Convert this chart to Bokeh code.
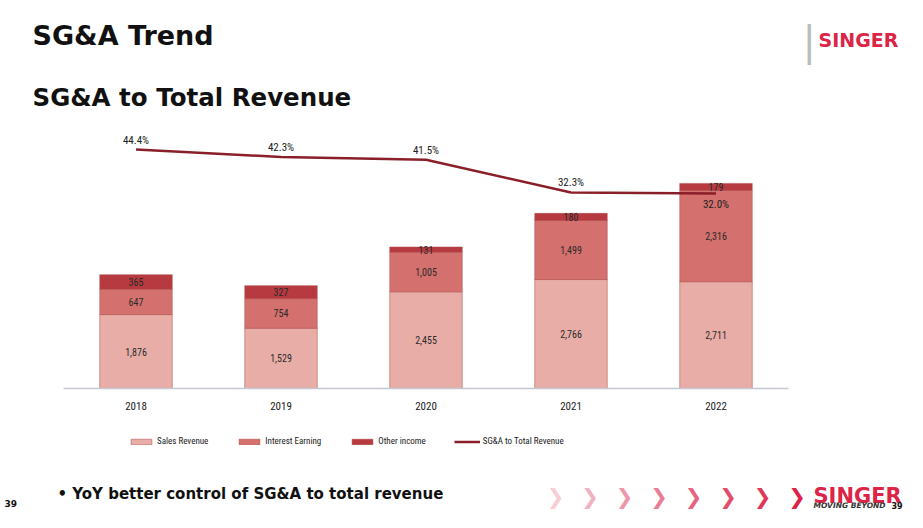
from bokeh.plotting import figure
from bokeh.models import (Range1d, Label, Legend, LegendItem, ColumnDataSource, CDSView,
                          IndexFilter, FixedTicker)
from bokeh.core.properties import value
from bokeh.embed import file_html
from bokeh.resources import INLINE

years = ["2018", "2019", "2020", "2021", "2022"]
sales_revenue = [1876, 1529, 2455, 2766, 2711]
interest_earning = [647, 754, 1005, 1499, 2316]
other_income = [365, 327, 131, 180, 179]
sga_ratio = [44.4, 42.3, 41.5, 32.3, 32.0]

C_SALES = "#e8ada6"
C_INT = "#d4706d"
C_OTHER = "#b73a40"
C_LINE = "#8a1f2a"
NARROW = "'Liberation Sans Narrow', 'Roboto Condensed', Roboto, sans-serif"
HEAD = "'DejaVu Sans', Verdana, sans-serif"

idx = list(range(len(years)))
src = ColumnDataSource(dict(
    x=idx, sales=sales_revenue, interest=interest_earning, other=other_income,
    pct=sga_ratio,
    sales_lbl=[f"{v:,}" for v in sales_revenue],
    int_lbl=[f"{v:,}" for v in interest_earning],
    oth_lbl=[f"{v:,}" for v in other_income],
    sales_mid=[s / 2 for s in sales_revenue],
    int_mid=[s + i / 2 for s, i in zip(sales_revenue, interest_earning)],
    oth_mid=[s + i + o / 2 for s, i, o in zip(sales_revenue, interest_earning, other_income)],
    pct_lbl=[f"{v:.1f}%" for v in sga_ratio],
))

W, H = 907, 512
# layout (canvas px): category pitch 145 px, first category centre at 135.5
PITCH, C0 = 145.0, 135.5
x_start = -C0 / PITCH
x_end = x_start + W / PITCH
B = H            # frame bottom (canvas px)
BASE = 388       # bar baseline (canvas px)
PX = 0.0394      # px per revenue unit
y0 = -(B - BASE) / PX
y1 = BASE / PX
PP = 3.55        # px per percentage point; 44.4% sits at canvas y 149
p1 = 44.4 + 149 / PP
p0 = 44.4 - (B - 149) / PP

p = figure(x_range=Range1d(x_start, x_end), y_range=Range1d(y0, y1), width=W, height=H,
           output_backend="svg", toolbar_location=None,
           min_border_left=0, min_border_right=0, min_border_top=0, min_border_bottom=0)
p.extra_y_ranges = {"pct": Range1d(p0, p1)}
p.yaxis.visible = False
p.xgrid.visible = False
p.ygrid.visible = False
p.outline_line_color = None
p.background_fill_color = "white"
p.border_fill_color = "white"
ax = p.xaxis[0]
ax.fixed_location = 0
ax.bounds = (idx[0] - 0.5, idx[-1] + 0.5)
ax.ticker = FixedTicker(ticks=idx)
ax.major_label_overrides = {i: y for i, y in zip(idx, years)}
ax.axis_line_color = "#c5c8d4"
ax.axis_line_width = 1.5
ax.major_tick_line_color = None
ax.minor_tick_line_color = None
ax.major_label_text_font_size = "11px"
ax.major_label_text_font = NARROW
ax.major_label_text_color = "#222222"
ax.major_label_standoff = 7

bars = p.vbar_stack(["sales", "interest", "other"], x="x", width=0.5, source=src,
                    color=[C_SALES, C_INT, C_OTHER], line_color="#b0474a", line_alpha=0.5, line_width=1)
ln = p.line(x="x", y="pct", y_range_name="pct", source=src, line_color=C_LINE, line_width=2.5)

common = dict(source=src, text_align="center", text_baseline="middle", text_font_size="10px",
              text_font=value(NARROW), text_color="#2a2a2a")
p.text(x="x", y="sales_mid", text="sales_lbl", **common)
p.text(x="x", y="int_mid", text="int_lbl", **common)
p.text(x="x", y="oth_mid", text="oth_lbl", **common)

above = CDSView(filter=IndexFilter([0, 1, 2, 3]))
below = CDSView(filter=IndexFilter([4]))
pc = dict(source=src, text_align="center", text_font_size="11px", text_font=value(NARROW),
          text_color="#222222", y_range_name="pct")
p.text(x="x", y="pct", text="pct_lbl", view=above, text_baseline="bottom", y_offset=-3, **pc)
p.text(x="x", y="pct", text="pct_lbl", view=below, text_baseline="top", y_offset=4, **pc)

legend = Legend(items=[
    LegendItem(label="Sales Revenue", renderers=[bars[0]]),
    LegendItem(label="Interest Earning", renderers=[bars[1]]),
    LegendItem(label="Other income", renderers=[bars[2]]),
    LegendItem(label="SG&A to Total Revenue", renderers=[ln]),
], orientation="horizontal", location=(128, B - 446), padding=0, margin=0,
    border_line_color=None, background_fill_alpha=0,
    glyph_width=26, glyph_height=7, label_standoff=3, spacing=28,
    label_text_font_size="9px", label_text_font=NARROW, label_text_color="#222222")
p.add_layout(legend)

def lab(x, y, text, size, color="#111111", font=HEAD, style="bold", align="left", baseline="middle"):
    p.add_layout(Label(x=x, y=y, x_units="canvas", y_units="canvas", text=text,
                       text_font_size=size, text_font=font, text_font_style=style,
                       text_color=color, text_align=align, text_baseline=baseline))

lab(32, 35, "SG&A Trend", "27px")
lab(32, 97, "SG&A to Total Revenue", "24.5px")
lab(802, 40, "|", "40px", color="#bbbbbb", style="normal")
lab(818, 39, "SINGER", "19px", color="#dc2447")
lab(57, 493, "\u2022 YoY better control of SG&A to total revenue", "15px")
lab(4, 503, "39", "9px")
lab(813, 495, "SINGER", "21px", color="#dc2447")
lab(813, 505, "MOVING BEYOND", "7.5px", color="#333333", style="bold italic")
lab(891, 505, "39", "8px")

chev_colors = ["#f6cdd5", "#f2b2c0", "#ee97aa", "#ea7d94", "#e6647f", "#e34d6b", "#e03759", "#dc2447"]
for i, c in enumerate(chev_colors):
    lab(555 + i * 34.5, 496, "\u276f", "21px", color=c, font="'DejaVu Sans'", align="center")

open("out.html", "w").write(file_html(p, INLINE))
